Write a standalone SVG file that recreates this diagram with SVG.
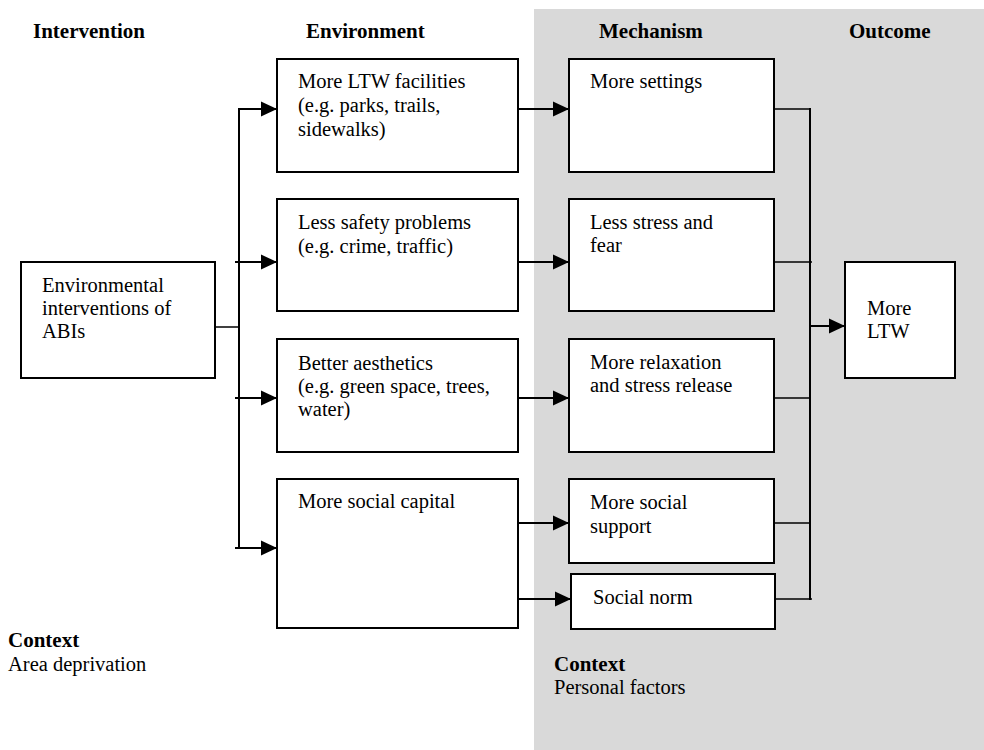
<svg xmlns="http://www.w3.org/2000/svg" width="984" height="750" viewBox="0 0 984 750">
<style>
text{font-family:"Liberation Serif","Times New Roman",serif;fill:#000;}
.h{font-size:21px;font-weight:bold;}
.t{font-size:20.5px;}
.box{fill:#fff;stroke:#000;stroke-width:2;}
.c{fill:none;stroke:#000;stroke-width:2;}
.cl{fill:none;stroke:#000;stroke-width:1.5;}
</style>
<defs>
<marker id="ah" markerWidth="16" markerHeight="16" refX="16" refY="8" orient="auto" markerUnits="userSpaceOnUse">
<path d="M0,0.5 L16,8 L0,15.5 Z" fill="#000"/>
</marker>
</defs>
<rect x="534" y="9" width="450" height="741" fill="#d9d9d9"/>
<g id="headers">
<text class="h" x="33" y="38">Intervention</text>
<text class="h" x="306" y="38">Environment</text>
<text class="h" x="599" y="38">Mechanism</text>
<text class="h" x="849" y="38">Outcome</text>
</g>
<g id="intervention">
<rect class="box" x="21" y="262" width="194" height="116"/>
<text class="t" x="42" y="292">Environmental</text>
<text class="t" x="42" y="315">interventions of</text>
<text class="t" x="42" y="338">ABIs</text>
</g>
<g id="env1">
<rect class="box" x="277" y="59" width="241" height="113"/>
<text class="t" x="298" y="88">More LTW facilities</text>
<text class="t" x="298" y="112">(e.g. parks, trails,</text>
<text class="t" x="298" y="136">sidewalks)</text>
</g>
<g id="env2">
<rect class="box" x="277" y="199" width="241" height="112"/>
<text class="t" x="298" y="229">Less safety problems</text>
<text class="t" x="298" y="253">(e.g. crime, traffic)</text>
</g>
<g id="env3">
<rect class="box" x="277" y="339" width="241" height="113"/>
<text class="t" x="298" y="370">Better aesthetics</text>
<text class="t" x="298" y="393">(e.g. green space, trees,</text>
<text class="t" x="298" y="416">water)</text>
</g>
<g id="env4">
<rect class="box" x="277" y="479" width="241" height="149"/>
<text class="t" x="298" y="508">More social capital</text>
</g>
<g id="mech1">
<rect class="box" x="569" y="59" width="205" height="113"/>
<text class="t" x="590" y="88">More settings</text>
</g>
<g id="mech2">
<rect class="box" x="569" y="199" width="205" height="112"/>
<text class="t" x="590" y="229">Less stress and</text>
<text class="t" x="590" y="252">fear</text>
</g>
<g id="mech3">
<rect class="box" x="569" y="339" width="205" height="113"/>
<text class="t" x="590" y="369">More relaxation</text>
<text class="t" x="590" y="392">and stress release</text>
</g>
<g id="mech4">
<rect class="box" x="569" y="479" width="205" height="84"/>
<text class="t" x="590" y="509">More social</text>
<text class="t" x="590" y="533">support</text>
</g>
<g id="mech5">
<rect class="box" x="571" y="574" width="204" height="55"/>
<text class="t" x="593" y="604">Social norm</text>
</g>
<g id="outcome">
<rect class="box" x="845" y="262" width="110" height="116"/>
<text class="t" x="867" y="315">More</text>
<text class="t" x="867" y="338">LTW</text>
</g>
<g id="context-left">
<text class="h" x="8" y="647">Context</text>
<text class="t" x="8" y="671">Area deprivation</text>
</g>
<g id="context-right">
<text class="h" x="554" y="671">Context</text>
<text class="t" x="554" y="694">Personal factors</text>
</g>
<g id="connectors">
<line class="cl" x1="215" y1="327" x2="239" y2="327"/>
<line class="c" x1="239" y1="108" x2="239" y2="549"/>
<line class="c" x1="238" y1="109" x2="277" y2="109" marker-end="url(#ah)"/>
<line class="c" x1="235" y1="262" x2="277" y2="262" marker-end="url(#ah)"/>
<line class="c" x1="235" y1="398" x2="277" y2="398" marker-end="url(#ah)"/>
<line class="c" x1="235" y1="548" x2="277" y2="548" marker-end="url(#ah)"/>
<line class="c" x1="518" y1="109" x2="569" y2="109" marker-end="url(#ah)"/>
<line class="c" x1="518" y1="262" x2="569" y2="262" marker-end="url(#ah)"/>
<line class="c" x1="518" y1="398" x2="569" y2="398" marker-end="url(#ah)"/>
<line class="c" x1="518" y1="523" x2="569" y2="523" marker-end="url(#ah)"/>
<line class="c" x1="518" y1="599" x2="571" y2="599" marker-end="url(#ah)"/>
<line class="cl" x1="774" y1="109" x2="810" y2="109"/>
<line class="cl" x1="774" y1="262" x2="812" y2="262"/>
<line class="cl" x1="774" y1="398" x2="810" y2="398"/>
<line class="cl" x1="774" y1="523" x2="810" y2="523"/>
<line class="cl" x1="775" y1="599" x2="812" y2="599"/>
<line class="c" x1="810" y1="108" x2="810" y2="600"/>
<line class="c" x1="810" y1="326" x2="845" y2="326" marker-end="url(#ah)"/>
</g>
</svg>
